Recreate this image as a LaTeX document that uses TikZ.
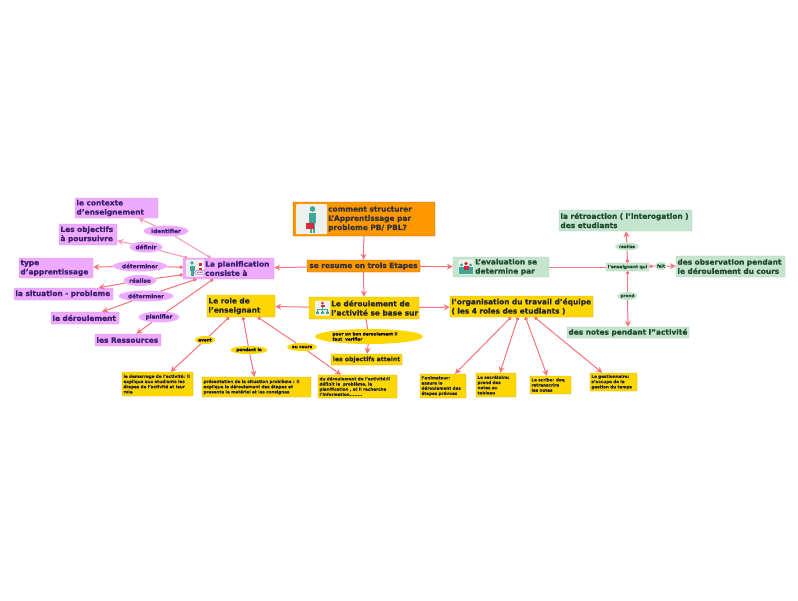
\documentclass[tikz,border=0pt]{standalone}
\usepackage{fontspec}
\setmainfont{DejaVu Sans}[BoldFeatures={FakeBold=0.9}]
\usetikzlibrary{arrows.meta}
\usetikzlibrary{shapes.geometric}
\definecolor{orangebox}{HTML}{FF9800}
\definecolor{goldbox}{HTML}{FFD700}
\definecolor{pinkbox}{HTML}{EEAAFF}
\definecolor{greenbox}{HTML}{C6E5CF}
\definecolor{linkred}{HTML}{F8737A}
\definecolor{linkpink}{HTML}{FA96B0}
\definecolor{purpletext}{HTML}{3D1F6E}
\definecolor{greentext}{HTML}{1F4A2E}
\definecolor{iconteal}{HTML}{3FA796}
\definecolor{iconred}{HTML}{D9283C}
\definecolor{iconback}{HTML}{EEF1EE}
\begin{document}
\begin{tikzpicture}[x=1pt,y=-1pt,
      box/.style={rectangle,rounded corners=0.8pt,inner sep=1.5pt,align=left,execute at begin node={\hyphenpenalty=10000\relax},font=\fontsize{7.4}{9.2}\selectfont\bfseries},
      wh/.style 2 args={text width=#1-3pt,minimum height=#2},
      orangenode/.style={box,fill=orangebox,draw=black!35!orangebox,text=black!80},
      goldnode/.style={box,fill=goldbox,draw=black!20!goldbox,text=black!85},
      pinknode/.style={box,fill=pinkbox,draw=black!12!pinkbox,text=purpletext},
      greennode/.style={box,fill=greenbox,draw=black!12!greenbox,text=greentext},
      tinynode/.style={goldnode,font=\fontsize{4.12}{5.2}\selectfont\bfseries},
      verb/.style={ellipse,inner sep=0pt,align=center,font=\fontsize{5.7}{7}\selectfont\bfseries},
      pinkverb/.style={verb,fill=pinkbox,text=purpletext},
      goldverb/.style={verb,fill=goldbox,text=black,font=\fontsize{4.2}{5.2}\selectfont\bfseries},
      greenverb/.style={verb,fill=greenbox,text=greentext,font=\fontsize{4.2}{5}\selectfont\bfseries},
      ewh/.style 2 args={minimum width=#1,minimum height=#2},
      boxtext/.style={anchor=west,inner sep=0pt,align=left,font=\fontsize{7.4}{9.2}\selectfont\bfseries},
      iconbox/.style={rectangle,rounded corners=1pt,fill=iconback,inner sep=0pt},
      outpt/.style={-{Stealth[length=6pt,width=6pt]},linkred,line width=1pt},
      inpt/.style={{Circle[length=3.5pt,width=3.5pt]}-,linkred,line width=1pt},
      inoutpt/.style={outpt,{Circle[length=3.5pt,width=3.5pt]}-{Stealth[length=6pt,width=6pt]}},
      plainpt/.style={linkred,line width=1pt},
      outptpink/.style={outpt,linkpink},
      inptpink/.style={inpt,linkpink}]
   \useasboundingbox (0,0) rectangle (798,600);
   %
   \node (root) at (364,219) [orangenode,minimum width=142,minimum height=34] {};
   \node (roottext) at (328,219) [boxtext,text=black!80] {comment structurer\\L'Apprentissage par\\probleme PB/ PBL?};
   \node (trois) at (363.5,266) [orangenode,minimum width=113,minimum height=12,align=center,text width=110] {se resume en trois Etapes};
   %
   \node (plan) at (228.5,268.5) [pinknode,minimum width=91,minimum height=21] {};
   \node (plantext) at (205,268.5) [boxtext,text=purpletext] {La planification\\consiste à};
   \node (contexte) at (116.5,208) [pinknode,wh={83}{20}] {le contexte\\d'enseignement};
   \node (objectifs) at (88,234.5) [pinknode,wh={58}{21}] {Les objectifs\\à poursuivre};
   \node (typeapp) at (56,268) [pinknode,wh={74}{20}] {type\\d'apprentissage};
   \node (situation) at (63.5,294) [pinknode,wh={99}{12}] {la situation - probleme};
   \node (ledeb) at (85,318) [pinknode,wh={68}{12}] {le déroulement};
   \node (ressources) at (128,340) [pinknode,wh={66}{12}] {les Ressources};
   %
   \node (identifier) at (166,231) [pinkverb,ewh={45}{11}] {identifier};
   \node (definir) at (146,247) [pinkverb,ewh={33}{11}] {définir};
   \node (determiner) at (140,266) [pinkverb,ewh={54}{11}] {déterminer};
   \node (realise) at (140,280.5) [pinkverb,ewh={33}{11}] {réalise};
   \node (determinerb) at (146,296) [pinkverb,ewh={55}{11}] {déterminer};
   \node (planifier) at (159,317) [pinkverb,ewh={41}{11}] {planifier};
   %
   \node (deroul) at (364,308) [goldnode,minimum width=110,minimum height=22] {};
   \node (deroultext) at (331,308) [boxtext,text=black!85] {Le déroulement de\\l'activité se base sur};
   \node (role) at (241,306) [goldnode,wh={68}{22}] {Le role de\\l'enseignant};
   \node (org) at (521.5,306.5) [goldnode,wh={143}{21}] {l'organisation du travail d'équipe\\( les 4 roles des etudiants )};
   \node (bon) at (369,336.5) [goldverb,ewh={108}{15},align=left] {pour un bon deroulement il\hspace*{8pt}\\faut\ \ verifier};
   \node (atteint) at (366.5,359.5) [goldnode,minimum width=71,minimum height=11,align=center,font=\fontsize{6.1}{8}\selectfont\bfseries] {les objectifs atteint};
   %
   \node (avant) at (205,340) [goldverb,ewh={20}{8}] {avant};
   \node (pendant) at (249,350) [goldverb,ewh={37}{8}] {pendant le};
   \node (aucours) at (302,347) [goldverb,ewh={30}{8}] {au cours};
   \node (demarrage) at (157.5,384) [tinynode,wh={71}{24}] {le demarrage de l'activité: il\\explique aux etudiants les\\étapes de l'activité et leur\\role};
   \node (presentation) at (256.5,387) [tinynode,wh={109}{20}] {présentation de la situation problème : il\\explique le déroulement des étapes et\\presente le matériel et les consignes};
   \node (duderoul) at (357.5,386.5) [tinynode,wh={79}{23}] {du déroulement de l'activité:il\\définit le\ \ problème, la\\planification , et il recherche\\l'information........};
   \node (animateur) at (443,386) [tinynode,wh={46}{24}] {l'animateur:\\assure le\\déroulement des\\étapes prévues};
   \node (secretaire) at (496,385) [tinynode,wh={40}{24}] {Le secrétaire:\\prend des\\notes au\\tableau};
   \node (scribe) at (550.5,385) [tinynode,wh={41}{18}] {Le scribe: doq\\retranscrire\\les notes};
   \node (gestion) at (613.5,382) [tinynode,wh={47}{18}] {Le gestionnaire:\\s'occupe de la\\gestion du temps};
   %
   \node (eval) at (501,267) [greennode,minimum width=96,minimum height=20] {};
   \node (evaltext) at (475,267) [boxtext,text=greentext] {L'evaluation se\\determine par};
   \node (enseignant) at (627.5,267) [greennode,minimum width=43,minimum height=8,inner sep=0pt,align=center,font=\fontsize{4.3}{5}\selectfont\bfseries] {l'enseignant qui};
   \node (retro) at (625.5,220.5) [greennode,wh={133}{21}] {la rétroaction ( l'interogation )\\des etudiants};
   \node (observation) at (730.5,266.5) [greennode,wh={109}{21}] {des observation pendant\\le déroulement du cours};
   \node (notes) at (628,332.5) [greennode,wh={122}{11}] {des notes pendant l''activité};
   \node (realiseb) at (627,246.5) [greenverb,ewh={24}{8}] {realise};
   \node (fait) at (661,266) [greenverb,ewh={12}{8}] {fait};
   \node (prend) at (627.5,296) [greenverb,ewh={20}{8}] {prend};
   %
   \draw[outpt](root)--(trois);
   \draw[outpt](trois)--(plan);
   \draw[outpt](trois)--(eval);
   \draw[outpt](trois)--(deroul);
   \draw[outpt](deroul)--(role);
   \draw[outpt](deroul)--(org);
   \draw[plainpt](deroul)--(bon);
   \draw[outpt](bon)--(atteint);
   %
   \draw[inptpink](plan)--(identifier);
   \draw[outptpink](identifier)--(contexte);
   \draw[inptpink](plan)--(definir);
   \draw[outptpink](definir)--(objectifs);
   \draw[inpt](plan)--(determiner);
   \draw[outpt](determiner)--(typeapp);
   \draw[inpt](plan)--(realise);
   \draw[outpt](realise)--(situation);
   \draw[inpt](plan)--(determinerb);
   \draw[outpt](determinerb)--(ledeb);
   \draw[inpt](plan)--(planifier);
   \draw[outpt](planifier)--(ressources);
   %
   \draw[inpt](role)--(avant);
   \draw[outpt](avant)--(demarrage);
   \draw[inpt](role)--(pendant);
   \draw[outpt](pendant)--(presentation);
   \draw[inpt](role)--(aucours);
   \draw[outpt](aucours)--(duderoul);
   %
   \draw[inoutpt](org)--(animateur);
   \draw[inoutpt](org)--(secretaire);
   \draw[inoutpt](org)--(scribe);
   \draw[inoutpt](org)--(gestion);
   %
   \draw[plainpt](eval)--(enseignant);
   \draw[inpt](enseignant)--(realiseb);
   \draw[outpt](realiseb)--(retro);
   \draw[inpt](enseignant)--(fait);
   \draw[outpt](fait)--(observation);
   \draw[inpt](enseignant)--(prend);
   \draw[outpt](prend)--(notes);
   %
   % woman with a red case in the root box
   \node (rooticon) at (311.5,219) [iconbox,minimum width=31,minimum height=30] {};
   \fill[iconteal] (312.5,209) circle (2.8);
   \fill[iconteal] (309,213) rectangle (316,223);
   \fill[iconteal] (310,223) rectangle (312,232.5);
   \fill[iconteal] (313,223) rectangle (315,232.5);
   \fill[iconred] (306,222.5) rectangle (314,229);
   % teacher in the planning box
   \node (planicon) at (195,268) [iconbox,minimum width=18,minimum height=17] {};
   \fill[iconteal] (192,263) circle (1.8);
   \fill[iconteal] (190,265.5) rectangle (194.5,271);
   \fill[iconteal] (190.5,271) rectangle (194,276);
   \fill[iconred] (199,263) rectangle (202,266);
   \fill[iconred] (199,268) rectangle (202,271);
   \node (planbadge) at (200,272.5) [ellipse,draw=pinkbox!70!black,fill=pinkbox!40,inner sep=0pt,minimum width=11,minimum height=5,font=\fontsize{2.2}{3}\selectfont] {anaiz};
   % chart in the activity box
   \node (deroulicon) at (322.5,308) [iconbox,minimum width=15,minimum height=15] {};
   \fill[iconred] (322.5,303) circle (1.5);
   \fill[iconred] (320.5,304.5) rectangle (324.5,307);
   \draw[iconteal,line width=0.4pt] (322.5,307)--(322.5,309) (317.5,310.5)--(317.5,309)--(327.5,309)--(327.5,310.5);
   \foreach \iconx in {317.5,322.5,327.5}{
      \fill[iconteal] (\iconx,311) circle (1);
      \fill[iconteal] (\iconx-1.8,312.2) rectangle (\iconx+1.8,314);
   }
   % group in the evaluation box
   \node (evalicon) at (466,267) [iconbox,minimum width=15,minimum height=15] {};
   \fill[iconteal] (461.5,265) circle (1.6);
   \fill[iconteal] (470.5,265) circle (1.6);
   \fill[iconteal] (459,267) rectangle (464,272);
   \fill[iconteal] (468,267) rectangle (473,272);
   \fill[iconred] (466,263.5) circle (1.8);
   \fill[iconred] (463.5,265.5) rectangle (468.5,270);
   \fill[iconteal] (459,270) rectangle (473,273.5);
\end{tikzpicture}
\end{document}
